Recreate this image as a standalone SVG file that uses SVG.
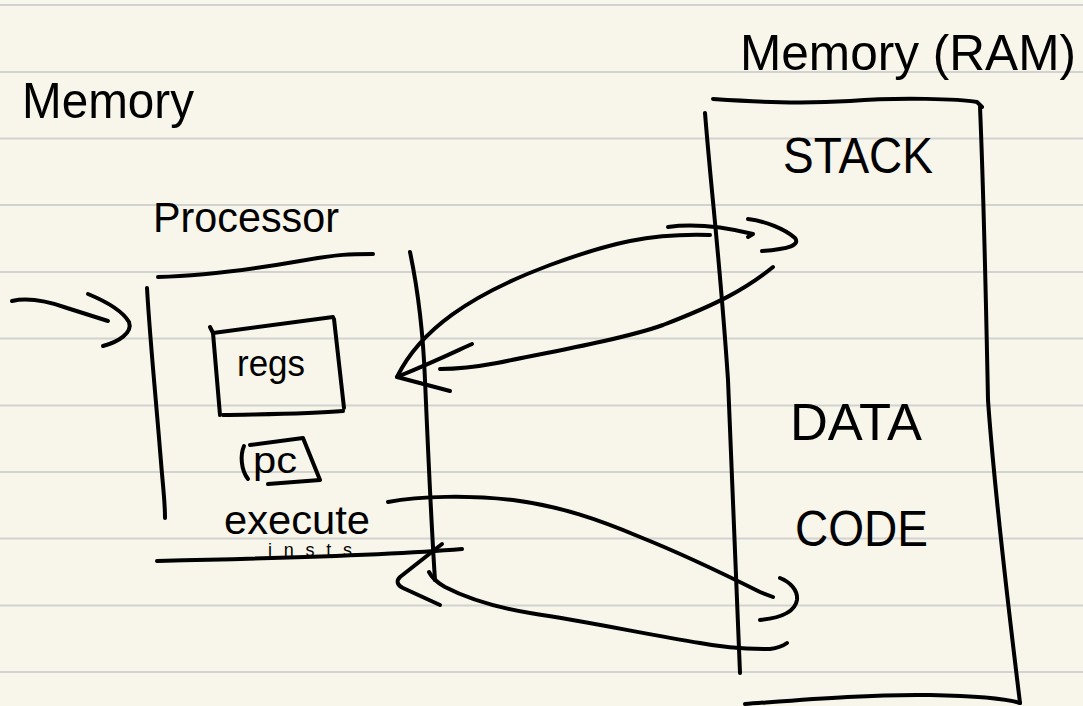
<svg xmlns="http://www.w3.org/2000/svg" width="1083" height="706" viewBox="0 0 1083 706">
  <style>
    .paper { fill: #f8f6ea; }
    .rule { stroke: #d2d2d0; stroke-width: 2; }
    .ink { fill: none; stroke: #000; stroke-width: 4; stroke-linecap: round; stroke-linejoin: round; }
    .hand { font-family: "Liberation Sans", "DejaVu Sans", sans-serif; fill: #000; }
  </style>

  <!-- ruled notebook paper -->
  <rect class="paper" x="0" y="0" width="1083" height="706"/>
  <g id="rules">
    <line class="rule" x1="0" y1="5" x2="1083" y2="5"/>
    <line class="rule" x1="0" y1="72" x2="1083" y2="72"/>
    <line class="rule" x1="0" y1="138.5" x2="1083" y2="138.5"/>
    <line class="rule" x1="0" y1="205" x2="1083" y2="205"/>
    <line class="rule" x1="0" y1="272" x2="1083" y2="272"/>
    <line class="rule" x1="0" y1="338.5" x2="1083" y2="338.5"/>
    <line class="rule" x1="0" y1="405.5" x2="1083" y2="405.5"/>
    <line class="rule" x1="0" y1="472" x2="1083" y2="472"/>
    <line class="rule" x1="0" y1="538.5" x2="1083" y2="538.5"/>
    <line class="rule" x1="0" y1="605.5" x2="1083" y2="605.5"/>
    <line class="rule" x1="0" y1="672" x2="1083" y2="672"/>
  </g>

  <!-- page heading -->
  <g id="title">
    <text class="hand" x="22" y="118" font-size="50" textLength="172" lengthAdjust="spacingAndGlyphs">Memory</text>
  </g>

  <!-- processor -->
  <g id="processor">
    <text class="hand" x="153" y="232" font-size="42" textLength="186" lengthAdjust="spacingAndGlyphs">Processor</text>
    <path class="ink" d="M158,277 C205,276 260,268 300,261 S350,254 373,254"/>
    <path class="ink" d="M147,288 C150,340 156,400 160,450 S165,500 165,518"/>
    <path class="ink" d="M410,252 C418,290 423,330 425,380 C428,450 431,520 435,580"/>
    <path class="ink" d="M157,561 C250,559 380,556 462,549"/>
    <text class="hand" x="224" y="534" font-size="40" textLength="146" lengthAdjust="spacingAndGlyphs">execute</text>
    <text class="hand" x="268" y="556" font-size="18" textLength="84" lengthAdjust="spacing">insts</text>
  </g>

  <!-- register file -->
  <g id="regs">
    <path class="ink" d="M210,327 L213,333 L333,317"/>
    <path class="ink" d="M213,333 L220,415"/>
    <path class="ink" d="M223,415 C270,414 310,414 343,411"/>
    <path class="ink" d="M334,319 L344,408"/>
    <text class="hand" x="237" y="376" font-size="36" textLength="68" lengthAdjust="spacingAndGlyphs">regs</text>
  </g>

  <!-- program counter -->
  <g id="pc">
    <path class="ink" d="M244,446 C240,455 241,470 248,479"/>
    <path class="ink" d="M250,445 L303,438 L320,480 L268,484"/>
    <text class="hand" x="253" y="473" font-size="36" textLength="44" lengthAdjust="spacingAndGlyphs">pc</text>
  </g>

  <!-- main memory -->
  <g id="ram">
    <text class="hand" x="740" y="70" font-size="50" textLength="336" lengthAdjust="spacingAndGlyphs">Memory (RAM)</text>
    <path class="ink" d="M713,99 C760,102 800,104 850,101 C900,97 960,99 977,102 L982,107"/>
    <path class="ink" d="M705,113 C712,200 720,260 728,380 C733,480 737,580 740,673"/>
    <path class="ink" d="M980,107 C984,200 986,300 988,400 C995,500 1010,620 1020,703"/>
    <path class="ink" d="M745,704 C800,700 870,694 930,695 C975,696 1005,698 1020,703"/>
    <text class="hand" x="783" y="173" font-size="50" textLength="150" lengthAdjust="spacingAndGlyphs">STACK</text>
    <text class="hand" x="790" y="440" font-size="52" textLength="132" lengthAdjust="spacingAndGlyphs">DATA</text>
    <text class="hand" x="795" y="546" font-size="50" textLength="133" lengthAdjust="spacingAndGlyphs">CODE</text>
  </g>

  <!-- connectors -->
  <g id="connectors">
    <!-- input into the processor -->
    <path class="ink" d="M12,301 C30,297 50,302 67,308 L108,321"/>
    <path class="ink" d="M88,294 C105,301 122,310 129,322 C133,333 118,342 103,346"/>

    <!-- registers to stack -->
    <path class="ink" d="M397,377 C420,330 470,295 550,265 C610,243 650,233 710,235"/>
    <path class="ink" d="M668,227 C690,224 720,226 753,234 L748,237"/>
    <path class="ink" d="M748,219 C765,221 785,229 795,238 C800,245 790,249 762,251"/>

    <!-- stack back to registers -->
    <path class="ink" d="M773,267 C745,290 715,305 663,325 C620,340 550,352 497,363 C470,368 450,369 440,369"/>
    <path class="ink" d="M472,344 C460,349 450,355 397,377 L450,391"/>

    <!-- processor to code -->
    <path class="ink" d="M388,502 C420,496 470,495 513,500 C560,506 600,520 640,537 C680,553 720,572 760,592 L773,597"/>
    <path class="ink" d="M780,578 C790,582 798,590 797,600 C795,612 780,618 760,620"/>

    <!-- code back to processor -->
    <path class="ink" d="M429,572 C432,578 436,582 445,587 C470,600 500,608 530,613 C590,622 650,635 700,643 C720,647 740,649 770,649 C778,648 783,646 787,643"/>
    <path class="ink" d="M442,544 L400,577 C396,581 397,585 403,588 L440,605"/>
  </g>
</svg>
